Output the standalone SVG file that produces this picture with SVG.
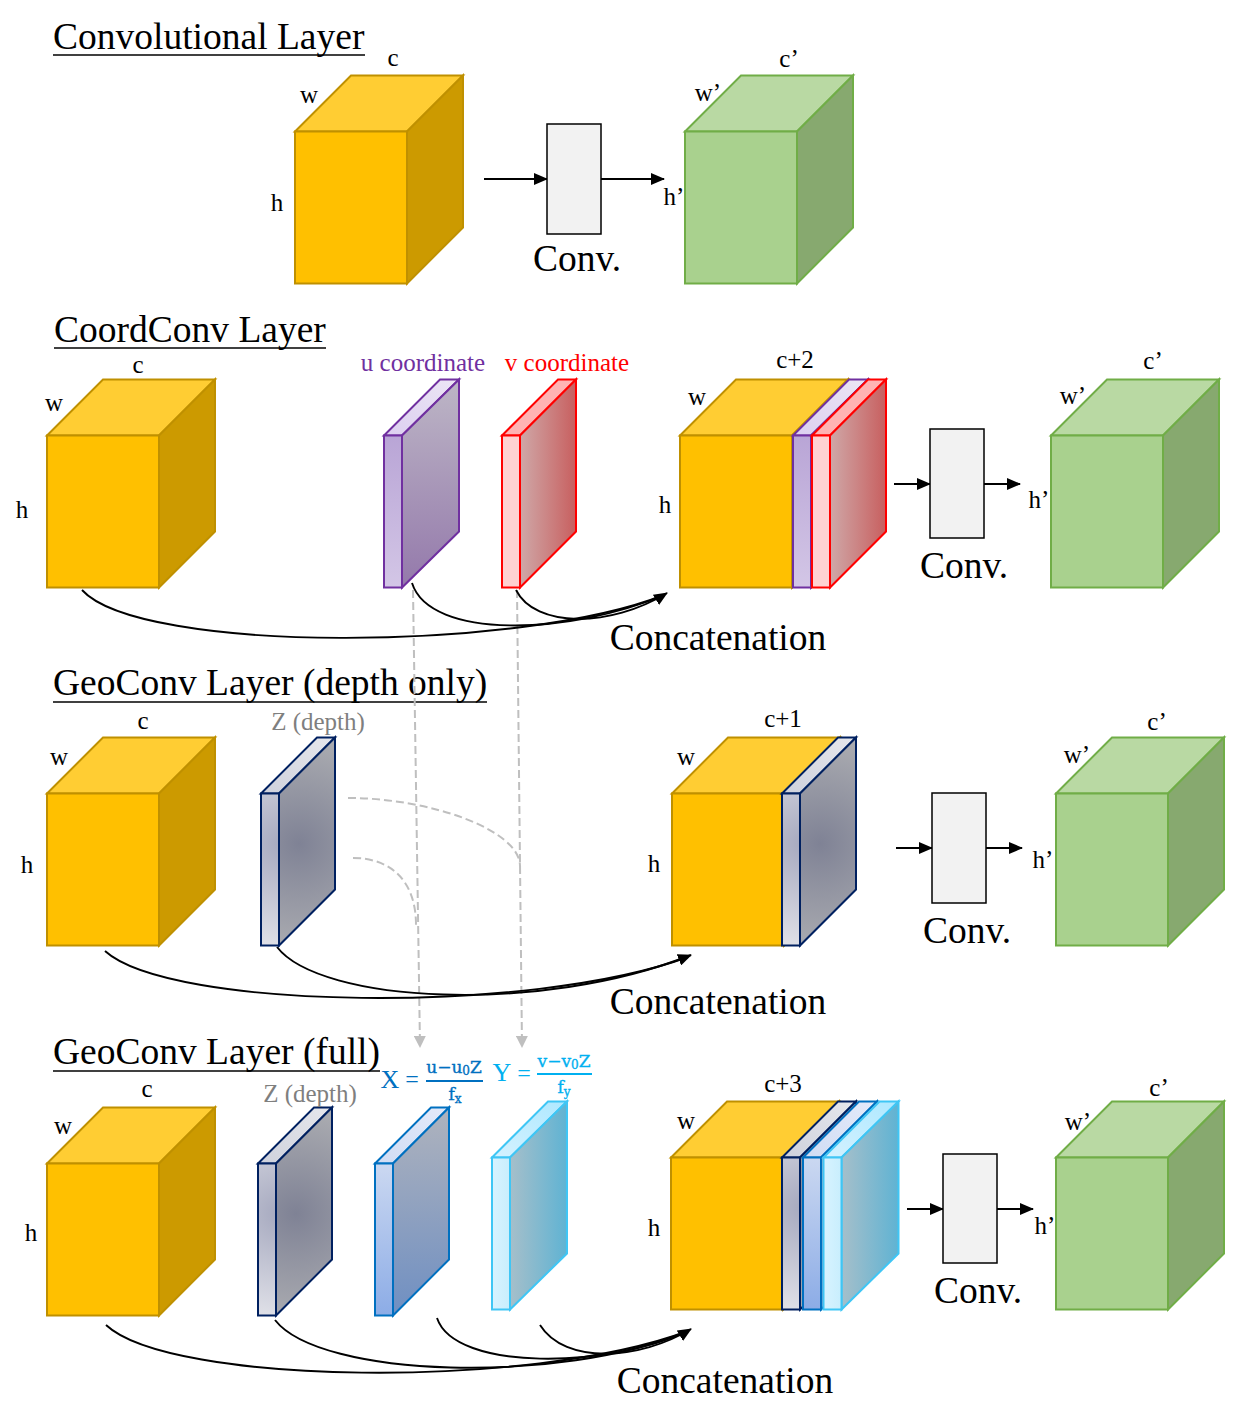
<svg xmlns="http://www.w3.org/2000/svg" xmlns:xlink="http://www.w3.org/1999/xlink" width="1244" height="1425" viewBox="0 0 1244 1425">
<style>
text{font-family:"Liberation Serif","Times New Roman",serif;fill:#000}
.t{font-size:37.5px}.l{font-size:25px}.c{font-size:37.5px}.m{text-anchor:middle}
.z{fill:#7f7f7f;font-size:25px}
.eq{font-family:"DejaVu Serif",serif;font-size:17px;text-anchor:middle;stroke-width:.35}
.s{stroke-width:2;stroke-linejoin:miter}
.y{stroke:#bf9000}.g{stroke:#70ad47}
.conv{fill:#f2f2f2;stroke:#000;stroke-width:1.5}
.cn{fill:none;stroke:#000;stroke-width:1.9}
.da{fill:none;stroke:#bfbfbf;stroke-width:2;stroke-dasharray:8 4}
.ar{fill:none;stroke:#000;stroke-width:2}
.ul{stroke:#000;stroke-width:1.6}
</style>
<defs>
<marker id="a" markerUnits="userSpaceOnUse" markerWidth="14" markerHeight="12" refX="13" refY="6" orient="auto"><path d="M0,0L14,6L0,12z" fill="#000"/></marker>
<marker id="d" markerUnits="userSpaceOnUse" markerWidth="12" markerHeight="12" refX="10" refY="6" orient="auto"><path d="M0,0L12,6L0,12z" fill="#bfbfbf"/></marker>
<linearGradient id="pF" x1="0" y1="0" x2="0" y2="1"><stop offset="0" stop-color="#b9a5d6"/><stop offset="1" stop-color="#d3c6e6"/></linearGradient>
<linearGradient id="pS" x1="0" y1="0" x2="0" y2="1"><stop offset="0" stop-color="#bdb6c6"/><stop offset="1" stop-color="#9479ab"/></linearGradient>
<linearGradient id="pT" x1="0" y1="1" x2="1" y2="0"><stop offset="0" stop-color="#dccff0"/><stop offset="1" stop-color="#ece6f5"/></linearGradient>
<linearGradient id="rS" x1="0" y1="0" x2="1" y2="0"><stop offset="0" stop-color="#cfa8a8"/><stop offset="1" stop-color="#c85f5f"/></linearGradient>
<radialGradient id="zS" gradientUnits="userSpaceOnUse" cx="38" cy="50" r="115"><stop offset="0" stop-color="#7f8295"/><stop offset="1" stop-color="#aeafb3"/></radialGradient>
<radialGradient id="zF" gradientUnits="userSpaceOnUse" cx="22" cy="50" r="105"><stop offset="0" stop-color="#a6a9bf"/><stop offset="1" stop-color="#e0e1e8"/></radialGradient>
<linearGradient id="zT" x1="0" y1="1" x2="1" y2="0"><stop offset="0" stop-color="#ced1dc"/><stop offset="1" stop-color="#e6e7ec"/></linearGradient>
<linearGradient id="xF" x1="0" y1="0" x2="0" y2="1"><stop offset="0" stop-color="#cbd8f1"/><stop offset="1" stop-color="#8cacE6"/></linearGradient>
<linearGradient id="xS" x1="0" y1="0" x2="0" y2="1"><stop offset="0" stop-color="#afb3bd"/><stop offset="1" stop-color="#6f8fc2"/></linearGradient>
<linearGradient id="xT" x1="0" y1="1" x2="1" y2="0"><stop offset="0" stop-color="#d0dcf3"/><stop offset="1" stop-color="#e4eafa"/></linearGradient>
<linearGradient id="cF" x1="0" y1="0" x2="1" y2="0"><stop offset="0" stop-color="#d8f3ff"/><stop offset="1" stop-color="#c8eefd"/></linearGradient>
<linearGradient id="cS" x1="0" y1="0" x2="1" y2="0"><stop offset="0" stop-color="#a6bfca"/><stop offset="1" stop-color="#5fb3d3"/></linearGradient>
<linearGradient id="cT" x1="0" y1="1" x2="1" y2="0"><stop offset="0" stop-color="#d5f2ff"/><stop offset="1" stop-color="#aee8ff"/></linearGradient>
<g id="yb" class="s y" transform="translate(0,.5)">
<path d="M0,0L56,-56H168L112,0z" fill="#ffcd33"/><path d="M112,0L168,-56V96L112,152z" fill="#cc9a00"/><rect width="112" height="152" fill="#ffc000"/>
</g>
<g id="gb" class="s g" transform="translate(0,.5)">
<path d="M0,0L56,-56H168L112,0z" fill="#b9d9a3"/><path d="M112,0L168,-56V96L112,152z" fill="#87a96f"/><rect width="112" height="152" fill="#a9d18e"/>
</g>
<g id="ps" class="s" stroke="#7030a0" transform="translate(0,.5)"><path d="M0,0L56,-56H75L18,0z" fill="url(#pT)"/><path d="M18,0L75,-56V96L18,152z" fill="url(#pS)"/><rect width="18" height="152" fill="url(#pF)"/></g>
<g id="rs" class="s" stroke="#ff0000" transform="translate(0,.5)"><path d="M0,0L56,-56H74L18,0z" fill="#ffb3b3"/><path d="M18,0L74,-56V96L18,152z" fill="url(#rS)"/><rect width="18" height="152" fill="#ffd1d1"/></g>
<g id="zs" class="s" stroke="#002060" transform="translate(0,.5)"><path d="M0,0L56,-56H74L18,0z" fill="url(#zT)"/><path d="M18,0L74,-56V96L18,152z" fill="url(#zS)"/><rect width="18" height="152" fill="url(#zF)"/></g>
<g id="xs" class="s" stroke="#0070c0" transform="translate(0,.5)"><path d="M0,0L56,-56H74L18,0z" fill="url(#xT)"/><path d="M18,0L74,-56V96L18,152z" fill="url(#xS)"/><rect width="18" height="152" fill="url(#xF)"/></g>
<g id="cs" class="s" stroke="#3fc6f5" transform="translate(0,.5)"><path d="M0,0L56,-56H75L18,0z" fill="url(#cT)"/><path d="M18,0L75,-56V96L18,152z" fill="url(#cS)"/><rect width="18" height="152" fill="url(#cF)"/></g>
</defs>
<rect width="1244" height="1425" fill="#fff"/>

<g id="titles">
<text class="t" x="53" y="48.5">Convolutional Layer</text><line class="ul" x1="53" y1="55" x2="365" y2="55"/>
<text class="t" x="54" y="341.5">CoordConv Layer</text><line class="ul" x1="54" y1="348" x2="326" y2="348"/>
<text class="t" x="53" y="694.5">GeoConv Layer (depth only)</text><line class="ul" x1="53" y1="702" x2="487" y2="702"/>
<text class="t" x="53" y="1063.5">GeoConv Layer (full)</text><line class="ul" x1="53" y1="1071" x2="380" y2="1071"/>
</g>

<g id="connectors">
<path class="da" d="M413,590L420,1046" marker-end="url(#d)"/>
<path class="da" d="M517,590L522,1046" marker-end="url(#d)"/>
<path class="da" d="M348,798C430,798 520,830 520,866"/>
<path class="da" d="M353,858C390,858 416,880 416,925"/>
<path class="ar" d="M484,179H547" marker-end="url(#a)"/><path class="ar" d="M601,179H664" marker-end="url(#a)"/>
<path class="ar" d="M894,484H930" marker-end="url(#a)"/><path class="ar" d="M984,484H1020" marker-end="url(#a)"/>
<path class="ar" d="M896,848H932" marker-end="url(#a)"/><path class="ar" d="M986,848H1022" marker-end="url(#a)"/>
<path class="ar" d="M907,1209H943" marker-end="url(#a)"/><path class="ar" d="M997,1209H1033" marker-end="url(#a)"/>
<path class="cn" d="M82,590C140,654 520,652 664,595"/>
<path class="cn" d="M412,583C430,640 570,635 664,595"/>
<path class="cn" d="M516,590C535,628 610,628 667,593" marker-end="url(#a)"/>
<path class="cn" d="M105,951C170,1010 530,1015 688,957"/>
<path class="cn" d="M277,947C320,1003 540,1015 691,955" marker-end="url(#a)"/>
<path class="cn" d="M106,1325C170,1385 530,1390 688,1331"/>
<path class="cn" d="M275,1320C320,1378 560,1385 688,1331"/>
<path class="cn" d="M437,1318C455,1372 610,1368 688,1331"/>
<path class="cn" d="M540,1325C565,1365 640,1360 691,1329" marker-end="url(#a)"/>
</g>

<g id="r1-input"><use href="#yb" x="295" y="131"/><text class="l m" x="393" y="66">c</text><text class="l m" x="309" y="103">w</text><text class="l m" x="277" y="211">h</text></g>
<g id="r1-conv"><rect class="conv" x="547" y="124" width="54" height="110"/><text class="c m" x="577" y="271">Conv.</text></g>
<g id="r1-output"><use href="#gb" x="685" y="131"/><text class="l m" x="789" y="67">c’</text><text class="l m" x="708" y="101">w’</text><text class="l m" x="674" y="205">h’</text></g>

<g id="r2-input"><use href="#yb" x="47" y="435"/><text class="l m" x="138" y="373">c</text><text class="l m" x="54" y="411">w</text><text class="l m" x="22" y="518">h</text></g>
<g id="r2-u"><use href="#ps" x="384" y="435"/><text class="l m" x="423" y="371" style="fill:#7030a0">u coordinate</text></g>
<g id="r2-v"><use href="#rs" x="502" y="435"/><text class="l m" x="567" y="371" style="fill:#ff0000">v coordinate</text></g>
<g id="r2-concat"><use href="#yb" x="680" y="435"/><use href="#ps" x="793" y="435"/><use href="#rs" x="812" y="435"/><text class="l m" x="795" y="368">c+2</text><text class="l m" x="697" y="405">w</text><text class="l m" x="665" y="513">h</text><text class="c m" x="718" y="650">Concatenation</text></g>
<g id="r2-conv"><rect class="conv" x="930" y="429" width="54" height="109"/><text class="c m" x="964" y="578">Conv.</text></g>
<g id="r2-output"><use href="#gb" x="1051" y="435"/><text class="l m" x="1153" y="369">c’</text><text class="l m" x="1073" y="404">w’</text><text class="l m" x="1039" y="508">h’</text></g>

<g id="r3-input"><use href="#yb" x="47" y="793"/><text class="l m" x="143" y="729">c</text><text class="l m" x="59" y="765">w</text><text class="l m" x="27" y="873">h</text></g>
<g id="r3-z"><use href="#zs" x="261" y="793"/><text class="z m" x="318" y="730">Z (depth)</text></g>
<g id="r3-concat"><use href="#yb" x="672" y="793"/><use href="#zs" x="782" y="793"/><text class="l m" x="783" y="727">c+1</text><text class="l m" x="686" y="765">w</text><text class="l m" x="654" y="872">h</text><text class="c m" x="718" y="1014">Concatenation</text></g>
<g id="r3-conv"><rect class="conv" x="932" y="793" width="54" height="110"/><text class="c m" x="967" y="943">Conv.</text></g>
<g id="r3-output"><use href="#gb" x="1056" y="793"/><text class="l m" x="1157" y="730">c’</text><text class="l m" x="1077" y="763">w’</text><text class="l m" x="1043" y="868">h’</text></g>

<g id="r4-input"><use href="#yb" x="47" y="1163"/><text class="l m" x="147" y="1097">c</text><text class="l m" x="63" y="1134">w</text><text class="l m" x="31" y="1241">h</text></g>
<g id="r4-z"><use href="#zs" x="258" y="1163"/><text class="z m" x="310" y="1102">Z (depth)</text></g>
<g id="r4-x"><use href="#xs" x="375" y="1163"/>
<text x="390" y="1088" style="fill:#0070c0;font-size:26px" class="m">X</text><text x="412" y="1087" style="fill:#0070c0;font-size:24px" class="m">=</text>
<text class="eq" x="454" y="1073" style="fill:#0070c0;stroke:#0070c0">u−u<tspan font-size="12" dy="2">0</tspan><tspan dy="-2">Z</tspan></text><line x1="426" y1="1081" x2="483" y2="1081" stroke="#0070c0" stroke-width="2"/><text class="eq" x="455" y="1100" style="fill:#0070c0;stroke:#0070c0">f<tspan font-size="12" dy="3">x</tspan></text></g>
<g id="r4-y"><use href="#cs" x="492" y="1157"/>
<text x="502" y="1081" style="fill:#00b0f0;font-size:26px" class="m">Y</text><text x="524" y="1081" style="fill:#00b0f0;font-size:24px" class="m">=</text>
<text class="eq" x="564" y="1067" style="fill:#00b0f0;stroke:#00b0f0">v−v<tspan font-size="12" dy="2">0</tspan><tspan dy="-2">Z</tspan></text><line x1="537" y1="1074" x2="592" y2="1074" stroke="#00b0f0" stroke-width="2"/><text class="eq" x="564" y="1093" style="fill:#00b0f0;stroke:#00b0f0">f<tspan font-size="12" dy="3">y</tspan></text></g>
<g id="r4-concat"><use href="#yb" x="671" y="1157"/><use href="#zs" x="782" y="1157"/><use href="#xs" x="803" y="1157"/><use href="#cs" x="823.5" y="1157"/><text class="l m" x="783" y="1092">c+3</text><text class="l m" x="686" y="1129">w</text><text class="l m" x="654" y="1236">h</text><text class="c m" x="725" y="1393">Concatenation</text></g>
<g id="r4-conv"><rect class="conv" x="943" y="1154" width="54" height="109"/><text class="c m" x="978" y="1303">Conv.</text></g>
<g id="r4-output"><use href="#gb" x="1056" y="1157"/><text class="l m" x="1159" y="1096">c’</text><text class="l m" x="1078" y="1130">w’</text><text class="l m" x="1045" y="1234">h’</text></g>
</svg>
